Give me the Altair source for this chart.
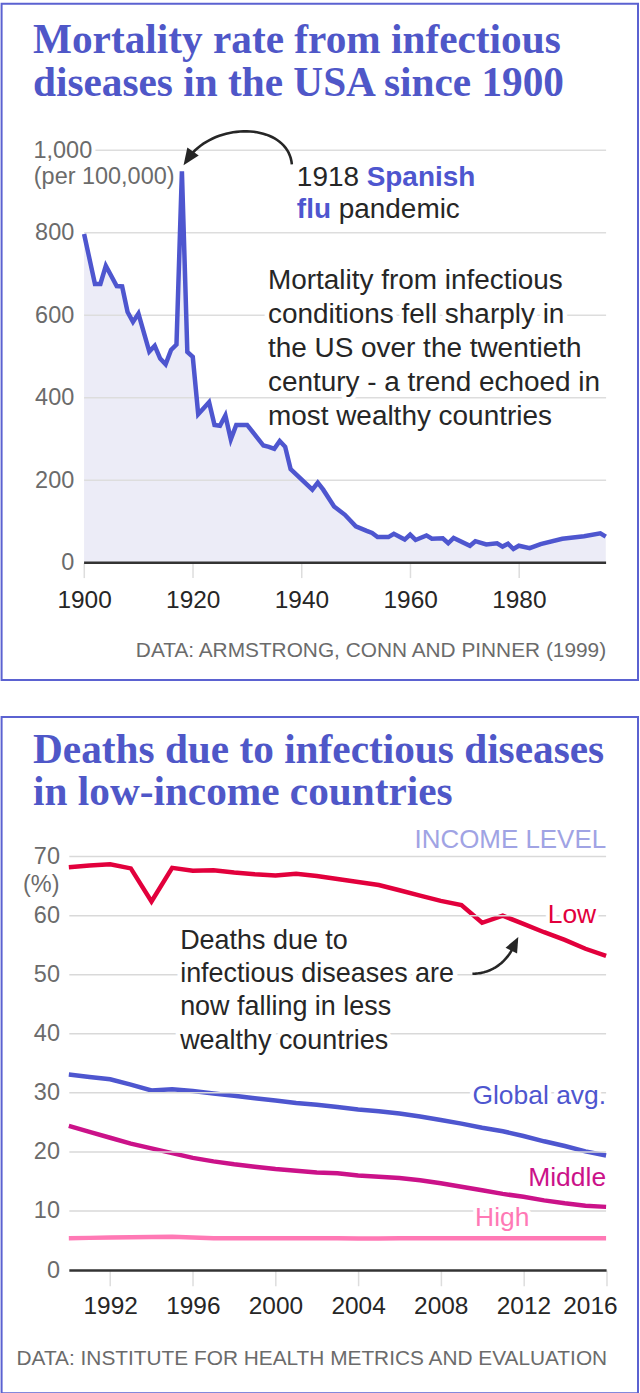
import numpy as np
import pandas as pd
import altair as alt

# ---------------- data ----------------
years_us = [1900, 1902, 1903, 1904, 1906, 1907, 1908, 1909, 1910, 1912, 1913, 1914, 1915, 1916,
            1917, 1918, 1919, 1920, 1921, 1923, 1924, 1925, 1926, 1927, 1928, 1930, 1933, 1934,
            1935, 1936, 1937, 1938, 1942, 1943, 1944, 1946, 1948, 1950, 1952, 1953, 1954, 1956,
            1957, 1959, 1960, 1961, 1963, 1964, 1966, 1967, 1968, 1971, 1972, 1974, 1976, 1977,
            1978, 1979, 1980, 1982, 1984, 1988, 1992, 1995, 1996]
rate_us = [797, 676, 676, 720, 671, 670, 608, 584, 604, 512, 526, 495, 481, 516,
           529, 949, 511, 499, 360, 389, 334, 332, 357, 299, 334, 334, 284, 281,
           276, 295, 281, 227, 177, 194, 177, 136, 116, 88, 77, 72, 62, 62,
           70, 56, 68, 55, 66, 58, 59, 47, 60, 41, 52, 44, 47, 39,
           46, 33, 41, 35, 45, 58, 64, 71, 63]

years_inc = list(range(1990, 2017))
low_income = [68.2, 68.5, 68.7, 68.0, 62.4, 68.1, 67.6, 67.7, 67.3, 67.0, 66.8, 67.1, 66.7, 66.2,
              65.7, 65.2, 64.3, 63.4, 62.5, 61.8, 58.8, 60.0, 58.6, 57.2, 55.9, 54.4, 53.2]
global_avg = [33.1, 32.7, 32.3, 31.4, 30.4, 30.6, 30.3, 29.9, 29.5, 29.1, 28.7, 28.3, 28.0, 27.6,
              27.2, 26.9, 26.5, 26.0, 25.4, 24.8, 24.1, 23.5, 22.7, 21.8, 21.0, 20.1, 19.4]
middle_income = [24.4, 23.4, 22.4, 21.4, 20.6, 19.8, 19.0, 18.4, 17.9, 17.5, 17.1, 16.8, 16.5, 16.4,
                 16.0, 15.8, 15.6, 15.2, 14.7, 14.1, 13.5, 12.9, 12.4, 11.8, 11.3, 10.9, 10.7]
high_income = [5.4, 5.45, 5.5, 5.55, 5.6, 5.65, 5.5, 5.4, 5.4, 5.4, 5.4, 5.4, 5.4, 5.4,
               5.35, 5.35, 5.4, 5.4, 5.4, 5.4, 5.4, 5.4, 5.4, 5.4, 5.4, 5.4, 5.4]
series_names = ["High", "Middle", "Global avg.", "Low"]

us_x_ticks = [1900, 1920, 1940, 1960, 1980]
us_y_ticks = [0, 200, 400, 600, 800]
us_y_grid = [200, 400, 600, 800, 1000]
inc_x_ticks = [1992, 1996, 2000, 2004, 2008, 2012, 2016]
inc_y_ticks = [0, 10, 20, 30, 40, 50, 60, 70]
inc_y_grid = [10, 20, 30, 40, 50, 60, 70]

# ---------------- style ----------------
FONT = "Liberation Sans"
SERIF = "Liberation Serif"
BLUE = "#4e56cf"
TITLE_BLUE = "#4f57c8"
BORDER = "#5b62d1"
AREA = "#ececf7"
LOW_C = "#e2003c"
MID_C = "#cb1289"
HIGH_C = "#ff79b5"
LAV = "#a0a3e4"
DARK = "#262626"
GREY = "#6b6b6b"
GRID = "#dddddd"

W = 538.6          # both panels share the same view width
H1 = 413.3
H2 = 414.5
LEFT = 68.4        # absolute x of the views' left edge
US_X0 = 83.7 - LEFT  # where 1900 sits inside panel 1


def text_layers(text, x, y, size, color=DARK, weight="normal", align="left",
                baseline="alphabetic", font=FONT, halo=0, line_height=0, dy=0):
    """x, y: ('px', value) for pixel offsets or ('data', value) for scale positions."""
    props = dict(text=text, font=font, fontSize=size, fontWeight=weight,
                 align=align, baseline=baseline, dy=dy)
    if line_height:
        props.update(lineBreak="\n", lineHeight=line_height)
    cols = {"k": [0]}
    enc = {}
    if x[0] == "px":
        enc["x"] = alt.value(x[1])
    else:
        cols["tx"] = [x[1]]
        enc["x"] = alt.X("tx:Q", title=None)
    if y[0] == "px":
        enc["y"] = alt.value(y[1])
    else:
        cols["ty"] = [y[1]]
        enc["y"] = alt.Y("ty:Q", title=None)
    df = pd.DataFrame(cols)
    out = []
    if halo:
        out.append(alt.Chart(df).mark_text(color="white", stroke="white", strokeWidth=halo,
                                           strokeJoin="round", **props).encode(**enc))
    out.append(alt.Chart(df).mark_text(color=color, **props).encode(**enc))
    return out


def border(y0, y1):
    return alt.Chart(pd.DataFrame({"k": [0]})).mark_rect(
        fillOpacity=0, stroke=BORDER, strokeWidth=2).encode(
        x=alt.value(1 - LEFT), x2=alt.value(639 - LEFT), y=alt.value(y0), y2=alt.value(y1))


def bezier(p):
    p = np.array(p, dtype=float)
    t = np.linspace(0, 1, 40)[:, None]
    return ((1 - t) ** 3) * p[0] + 3 * ((1 - t) ** 2) * t * p[1] + 3 * (1 - t) * t ** 2 * p[2] + t ** 3 * p[3]


def arrow_layers(ctrl, tip, angle, size, to_data):
    b = bezier(ctrl)
    ax, ay = to_data(b[:, 0], b[:, 1])
    df = pd.DataFrame({"ax": ax, "ay": ay, "i": np.arange(len(ax))})
    line = alt.Chart(df).mark_line(color=DARK, strokeWidth=2.6).encode(
        x=alt.X("ax:Q", title=None), y=alt.Y("ay:Q", title=None), order="i:Q")
    tx, ty = to_data(np.array([tip[0]]), np.array([tip[1]]))
    head = alt.Chart(pd.DataFrame({"ax": tx, "ay": ty})).mark_point(
        shape="M0,0L-0.42,1L0.42,1Z", filled=True, size=size, angle=angle, color=DARK,
        opacity=1).encode(x=alt.X("ax:Q", title=None), y=alt.Y("ay:Q", title=None))
    return [line, head]


# ================= panel 1 =================
def us_data(xa, ya):
    return 1900 + (xa - 83.7) * 96 / 523.0, (561.3 - ya) * 1000 / 413.3


df_us = pd.DataFrame({"year": years_us, "rate": rate_us})
xs1 = alt.Scale(domain=[1900, 1996], range=[US_X0, 606.7 - LEFT], nice=False, zero=False)
ys1 = alt.Scale(domain=[0, 1000], nice=False, zero=False)

area1 = alt.Chart(df_us).mark_area(color=AREA).encode(
    x=alt.X("year:Q", scale=xs1, title=None,
            axis=alt.Axis(values=us_x_ticks, format="d", grid=False, domain=False,
                          tickSize=15, tickColor=GRID, tickWidth=1.5, labelFont=FONT,
                          labelFontSize=24.5, labelColor=DARK, labelPadding=11,
                          labelFlush=False)),
    y=alt.Y("rate:Q", scale=ys1, title=None,
            axis=alt.Axis(values=us_y_ticks, grid=False, domain=False, ticks=False,
                          tickSize=0, offset=-US_X0, labelPadding=10.4, labelFont=FONT,
                          labelFontSize=23.5, labelColor=GREY)))
grid1 = alt.Chart(pd.DataFrame({"g": us_y_grid})).mark_rule(color=GRID, strokeWidth=1.5).encode(
    y=alt.Y("g:Q", title=None), x=alt.value(US_X0), x2=alt.value(W))
zero1 = alt.Chart(pd.DataFrame({"g": [0]})).mark_rule(color="#333333", strokeWidth=2.5).encode(
    y=alt.Y("g:Q", title=None), x=alt.value(US_X0), x2=alt.value(W))
line1 = alt.Chart(df_us).mark_line(color=BLUE, strokeWidth=4.5).encode(
    x=alt.X("year:Q", title=None), y=alt.Y("rate:Q", title=None))

p1 = [area1, grid1, zero1, line1]
p1 += text_layers("1,000", ("px", 33 - LEFT), ("data", 1000), 23.5, color=GREY,
                  baseline="middle", halo=8, dy=1)
p1 += text_layers("(per 100,000)", ("px", 33.3 - LEFT), ("data", 1000), 23.5,
                  color=GREY, baseline="middle", dy=27)
p1 += text_layers("Mortality from infectious\nconditions fell sharply in\nthe US over the twentieth\n"
                  "century - a trend echoed in\nmost wealthy countries",
                  ("px", 268 - LEFT), ("px", 286.7 - 148), 28, halo=9, line_height=34.15)
p1 += text_layers("1918", ("px", 297 - LEFT), ("px", 183.3 - 148), 28)
p1 += text_layers("Spanish", ("px", 367 - LEFT), ("px", 183.3 - 148), 28, color=BLUE,
                  weight="bold")
p1 += text_layers("flu", ("px", 297 - LEFT), ("px", 215.5 - 148), 28, color=BLUE,
                  weight="bold")
p1 += text_layers("pandemic", ("px", 339 - LEFT), ("px", 215.5 - 148), 28)
p1 += arrow_layers([(292, 162), (288, 120), (215, 118), (188, 156)], (183.4, 162.8), 215, 1100,
                   us_data)
p1 += text_layers("DATA: ARMSTRONG, CONN AND PINNER (1999)", ("px", 607 - LEFT),
                  ("px", 656.3 - 148), 20.9, color=GREY, align="right")
p1 += text_layers("Mortality rate from infectious\ndiseases in the USA since 1900",
                  ("px", 32.5 - LEFT), ("px", 50 - 148), 41.4, color=TITLE_BLUE,
                  weight="bold", font=SERIF, line_height=43.3)
p1.append(border(1 - 148, 679 - 148))

panel1 = alt.layer(*p1).properties(width=W, height=H1)

# ================= panel 2 =================
def inc_data(xa, ya):
    return 1990 + (xa - 68.4) * 26 / 538.6, (1268.5 - ya) * 70 / 414.5


rows = []
for name, vals in zip(series_names, [high_income, middle_income, global_avg, low_income]):
    for yr, v in zip(years_inc, vals):
        rows.append({"year": yr, "share": v, "level": name})
df_inc = pd.DataFrame(rows)

xs2 = alt.Scale(domain=[1990, 2016], nice=False, zero=False)
ys2 = alt.Scale(domain=[0, 70], nice=False, zero=False)

lines2 = alt.Chart(df_inc).mark_line(strokeWidth=4.5).encode(
    x=alt.X("year:Q", scale=xs2, title=None,
            axis=alt.Axis(values=inc_x_ticks, format="d", grid=False, domain=True,
                          domainColor="#333333", domainWidth=2.5, tickSize=15.7,
                          tickColor=GRID, tickWidth=1.5, labelFont=FONT, labelFontSize=24.5,
                          labelColor=DARK, labelPadding=9, labelFlush=True,
                          labelFlushOffset=11)),
    y=alt.Y("share:Q", scale=ys2, title=None,
            axis=alt.Axis(values=inc_y_ticks, grid=False, domain=False, ticks=False,
                          tickSize=0, labelPadding=9.4, labelFont=FONT, labelFontSize=23.5,
                          labelColor=GREY)),
    color=alt.Color("level:N", legend=None,
                    scale=alt.Scale(domain=series_names, range=[HIGH_C, MID_C, BLUE, LOW_C])),
    detail="level:N")

grid2 = alt.Chart(pd.DataFrame({"gv": inc_y_grid})).mark_rule(
    color="#d9d9d9", strokeWidth=1.5).encode(
    y=alt.Y("gv:Q", title=None), x=alt.value(0.5), x2=alt.value(W))

p2 = [lines2, grid2]
p2 += text_layers("(%)", ("px", 59 - LEFT), ("data", 70), 23.5, color=GREY,
                  align="right", baseline="middle", dy=28.5)
p2 += text_layers("INCOME LEVEL", ("px", 607 - LEFT), ("px", 845 - 854), 26, color=LAV,
                  align="right")
p2 += text_layers("Low", ("data", 2015.52), ("data", 60.3), 26.5,
                  color=LOW_C, align="right", baseline="middle", halo=8, dy=1.5)
p2 += text_layers("Global avg.", ("data", 2016), ("data", 29.64), 26.5,
                  color=BLUE, align="right", baseline="middle", halo=8, dy=1.5)
p2 += text_layers("Middle", ("data", 2016), ("data", 15.79), 26.5,
                  color=MID_C, align="right", baseline="middle", halo=8, dy=1.5)
p2 += text_layers("High", ("data", 2009.66), ("data", 9.12), 26.5,
                  color=HIGH_C, align="left", baseline="middle", halo=8, dy=1.5)
p2 += text_layers("Deaths due to\ninfectious diseases are\nnow falling in less\nwealthy countries",
                  ("px", 180 - LEFT), ("px", 946.7 - 854), 27, halo=9, line_height=33.3)
p2 += arrow_layers([(473, 971.5), (493, 971), (507, 960), (515, 943)], (519, 934.5), 27, 950,
                   inc_data)
p2 += text_layers("DATA: INSTITUTE FOR HEALTH METRICS AND EVALUATION", ("px", 16 - LEFT),
                  ("px", 1363.3 - 854), 20.9, color=GREY)
p2 += text_layers("Deaths due to infectious diseases\nin low-income countries",
                  ("px", 32.5 - LEFT), ("px", 760 - 854), 41.4, color=TITLE_BLUE,
                  weight="bold", font=SERIF, line_height=42.7)
p2.append(border(714 - 854, 1392 - 854))

panel2 = alt.layer(*p2).properties(width=W, height=H2)

chart = alt.vconcat(panel1, panel2, spacing=33, padding=0, background="white").configure(
    font=FONT).configure_view(stroke="transparent")

chart.save("out.html", embed_options={"renderer": "svg", "actions": False})
